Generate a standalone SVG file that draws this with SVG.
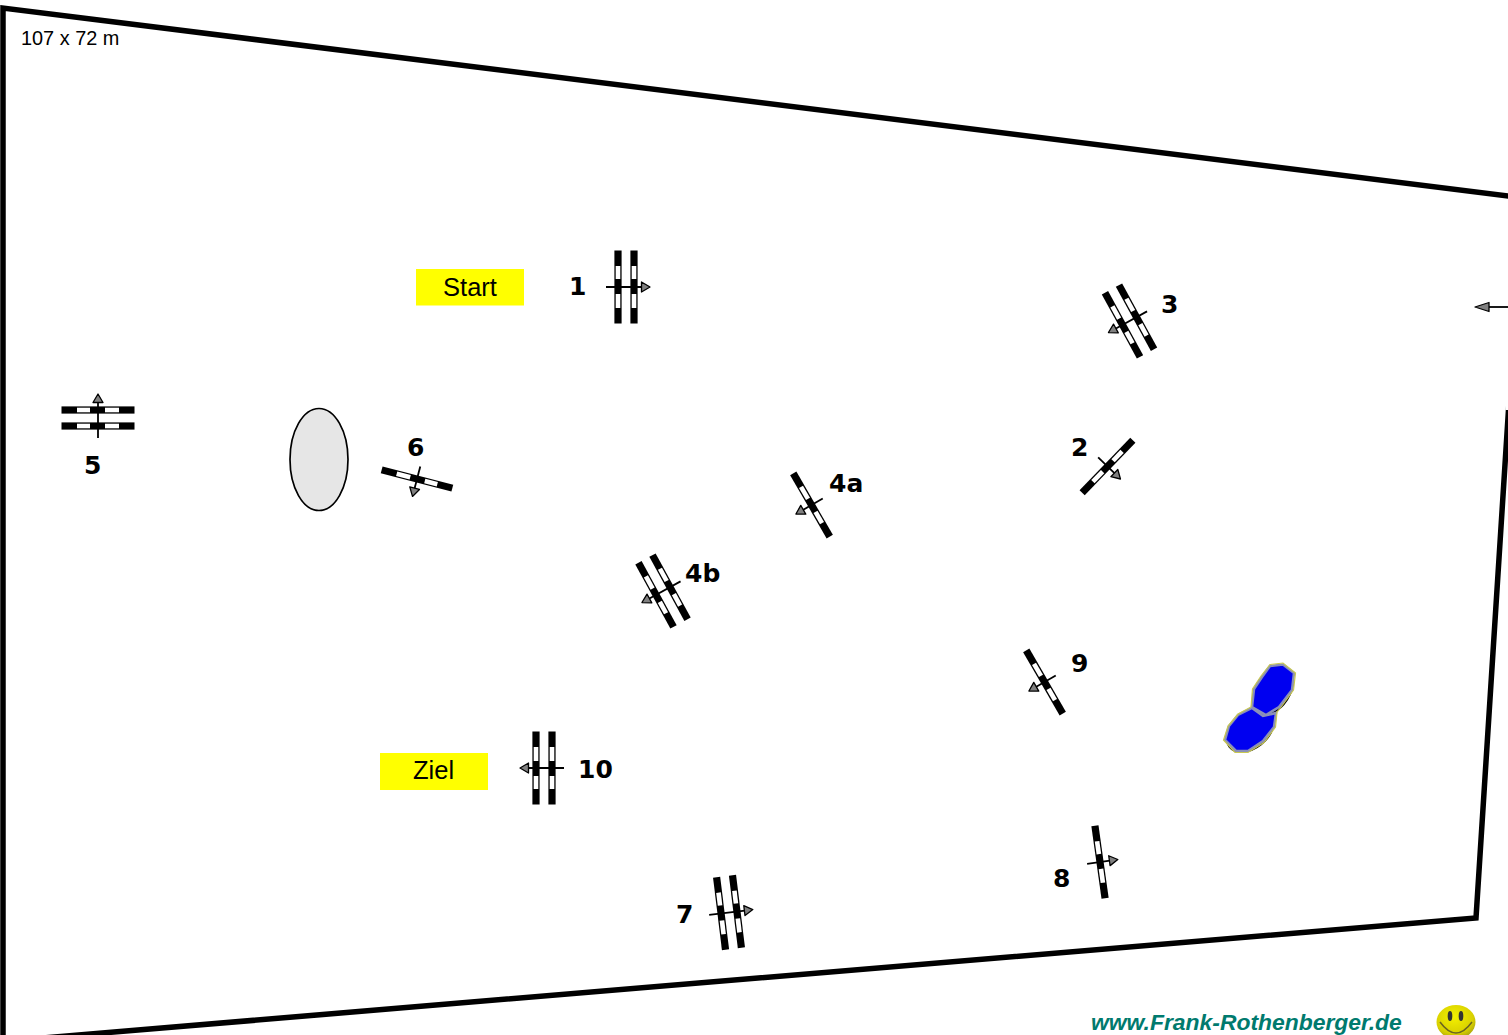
<svg xmlns="http://www.w3.org/2000/svg" width="1508" height="1035" viewBox="0 0 1508 1035">
<style>
.lbl{font-family:"DejaVu Sans",Verdana,sans-serif;font-weight:700;font-size:25px;fill:#000}
.txt{font-family:"Liberation Sans",Arial,sans-serif;fill:#000}
.bar{fill:#000}
.slot{fill:#fff}
.shaft{stroke:#000;stroke-width:1.8;fill:none}
.head{fill:#808080;stroke:#000;stroke-width:1.3;stroke-linejoin:round}
.start{fill:#ffff00}
.pond{fill:#0000f0;stroke:#8a8fb8;stroke-width:2.5}
.pond2{fill:none;stroke:#c8c850;stroke-width:1.200}
</style>
<defs>
<g id="bar"><rect class="bar" x="-3.6" y="-36.500" width="7.200" height="73"/><rect class="slot" x="-2.300" y="-21" width="4.600" height="13"/><rect class="slot" x="-2.300" y="7" width="4.600" height="14"/></g>
<g id="arrow"><path class="shaft" d="M-20 0H16"/><path class="head" d="M15.500 -5L24 0L15.500 5Z"/></g>
<g id="arrow-s"><path class="shaft" d="M-13 0H10"/><path class="head" d="M9.500 -5L18 0L9.500 5Z"/></g>
<radialGradient id="smile" cx="0.45" cy="0.35" r="0.7"><stop offset="0" stop-color="#f4f000"/><stop offset="0.7" stop-color="#d8d000"/><stop offset="1" stop-color="#a09a10"/></radialGradient>
</defs>
<g id="field"><path d="M3 1040V8L1520 197.500M1520 230L1476 918L46 1037.700" fill="none" stroke="#000" stroke-width="5.500"/></g>
<rect x="1505.500" y="202" width="3" height="208" fill="#fff"/>
<g id="size"><text class="txt" x="21" y="45" font-size="19.900">107 x 72 m</text></g>
<g id="start"><rect class="start" x="416" y="269" width="108" height="36.500"/><text class="txt" x="470" y="295.500" font-size="25.500" text-anchor="middle">Start</text></g>
<g id="ziel"><rect class="start" x="380" y="753" width="108" height="37"/><text class="txt" x="433.500" y="779" font-size="25.500" text-anchor="middle">Ziel</text></g>
<g id="gate-1"><g transform="translate(626 287)"><use href="#bar" x="-8"/><use href="#bar" x="8"/><use href="#arrow"/></g><text class="lbl" x="569" y="295">1</text></g>
<g id="gate-10"><g transform="translate(544 768) rotate(180)"><use href="#bar" x="-8"/><use href="#bar" x="8"/><use href="#arrow"/></g><text class="lbl" x="578" y="778">10</text></g>
<g id="gate-5"><g transform="translate(98 418) rotate(-90)"><use href="#bar" x="-8"/><use href="#bar" x="8"/><use href="#arrow"/></g><text class="lbl" x="84" y="474">5</text></g>
<g id="gate-3"><g transform="translate(1129.500 321) rotate(151.300)"><use href="#bar" x="-8"/><use href="#bar" x="8"/><use href="#arrow"/></g><text class="lbl" x="1161" y="313">3</text></g>
<g id="gate-4b"><g transform="translate(663 591) rotate(151.300)"><use href="#bar" x="-8"/><use href="#bar" x="8"/><use href="#arrow"/></g><text class="lbl" x="685" y="582">4b</text></g>
<g id="gate-4a"><g transform="translate(811.500 505) rotate(150)"><use href="#bar"/><use href="#arrow-s"/></g><text class="lbl" x="829" y="492">4a</text></g>
<g id="gate-2"><g transform="translate(1107.500 466.500) rotate(44)"><use href="#bar"/><use href="#arrow-s"/></g><text class="lbl" x="1071" y="456">2</text></g>
<g id="gate-6"><g transform="translate(417 479) rotate(104.500)"><use href="#bar"/><use href="#arrow-s"/></g><text class="lbl" x="407" y="456">6</text></g>
<g id="gate-9"><g transform="translate(1044.500 682) rotate(150)"><use href="#bar"/><use href="#arrow-s"/></g><text class="lbl" x="1071" y="672">9</text></g>
<g id="gate-8"><g transform="translate(1100 862) rotate(-8)"><use href="#bar"/><use href="#arrow-s"/></g><text class="lbl" x="1053" y="887">8</text></g>
<g id="gate-7"><g transform="translate(729 912.500) rotate(-7)"><use href="#bar" x="-8"/><use href="#bar" x="8"/><use href="#arrow"/></g><text class="lbl" x="676" y="923">7</text></g>
<g id="entry-arrow"><path class="shaft" d="M1508 307H1488"/><path class="head" d="M1489 302.500L1475 307L1489 311.500Z"/></g>
<g id="oval"><ellipse cx="319" cy="459.500" rx="29" ry="51" fill="#e6e6e6" stroke="#000" stroke-width="1.700"/></g>
<g id="pond">
<ellipse cx="1273" cy="690.500" rx="17" ry="26.500" transform="rotate(33 1273 690.500)" fill="#0000f0" stroke="#000" stroke-width="1.500"/>
<ellipse cx="1250" cy="730.500" rx="18" ry="26.500" transform="rotate(52 1250 730.500)" fill="#0000f0" stroke="#000" stroke-width="1.500"/>
<path class="pond" d="M1270 666L1283 664.500L1294 673L1292 690L1279 707L1266 715L1252 707L1254 689L1262 677Z"/>
<path class="pond" d="M1252 708L1263 716L1276 713L1274 727L1263 741L1248 751L1236 751L1225 740L1229 726L1238 715Z"/>
<path class="pond2" d="M1270 664.500L1283 663L1295.500 673L1293.500 690L1280 708.500L1277 712L1275.500 727L1264 742.500L1248 752.500L1235 752.500L1223.500 740L1228 726L1238 714L1251 707L1252.500 689L1261 676Z"/>
</g>
<g id="credit"><text class="txt" x="1091" y="1030" font-size="22.900" font-weight="700" font-style="italic" style="fill:#007a6e">www.Frank-Rothenberger.de</text></g>
<g id="smiley"><ellipse cx="1456" cy="1022" rx="19.500" ry="17" fill="url(#smile)"/><ellipse cx="1450" cy="1016" rx="2.300" ry="5" fill="#333"/><ellipse cx="1461" cy="1016" rx="2.300" ry="5" fill="#333"/><path d="M1440 1022Q1456 1044 1472 1022" fill="none" stroke="#6a6420" stroke-width="1.500"/></g>
</svg>
